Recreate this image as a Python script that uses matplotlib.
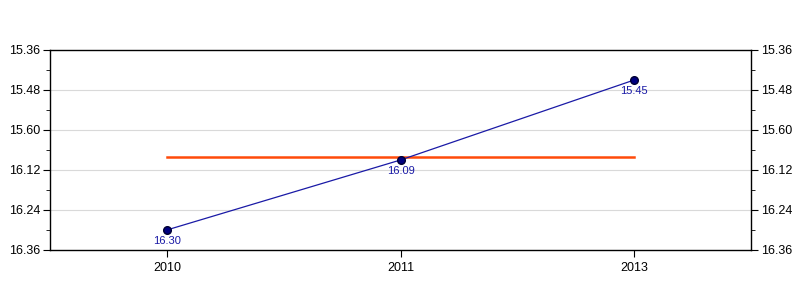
import numpy as np
import matplotlib
matplotlib.use('Agg')
import matplotlib.pyplot as plt
from matplotlib.ticker import FixedLocator, FixedFormatter

# race times written as min.sec
years = ['2010', '2011', '2013']
times = ['16.30', '16.09', '15.45']
ytick_labels = ['15.36', '15.48', '15.60', '16.12', '16.24', '16.36']


def to_seconds(s):
    m, sec = s.split('.')
    return int(m) * 60 + int(sec)


secs = np.array([to_seconds(t) for t in times])
yticks = [to_seconds(t) for t in ytick_labels]
minor = [(a + b) / 2 for a, b in zip(yticks[:-1], yticks[1:])]
x = np.arange(len(years))

plt.rcParams['font.family'] = ['Liberation Sans', 'DejaVu Sans']

fig = plt.figure(figsize=(8, 3), dpi=100)
ax = fig.add_axes([0.0625, 0.1667, 0.8763, 0.6667])

ax.plot(x, secs, color='#1a1aa6', linewidth=0.9, zorder=3)
ax.plot(x, secs, 'o', color='#000080', markeredgecolor='#000033',
        markersize=5.5, zorder=4)
for xi, s, t in zip(x, secs, times):
    ax.annotate(t, (xi, s), xytext=(0, -4.5), textcoords='offset points',
                ha='center', va='top', fontsize=8, color='#1a1aa6', zorder=5)

ax.plot([x[0], x[-1]], [secs.mean()] * 2, color='#ff4a0a', linewidth=1.8, zorder=2)

ax.set_xlim(-0.5, len(years) - 0.5)
ax.set_ylim(yticks[-1], yticks[0])
ax.set_xticks(x)
ax.set_xticklabels(years)

ax.yaxis.set_major_locator(FixedLocator(yticks))
ax.yaxis.set_major_formatter(FixedFormatter(ytick_labels))
ax.yaxis.set_minor_locator(FixedLocator(minor))
ax.tick_params(axis='y', which='both', left=True, right=True,
               labelleft=True, labelright=True, direction='out')
ax.tick_params(axis='y', which='major', length=5, labelsize=9, pad=2)
ax.tick_params(axis='y', which='minor', length=3)
ax.tick_params(axis='x', length=5, labelsize=9, pad=4)

for yt in yticks[1:-1]:
    ax.axhline(yt, color='#d9d9d9', linewidth=0.8, zorder=1)

for sp in ax.spines.values():
    sp.set_linewidth(1)

fig.savefig('out.png', dpi=100)
